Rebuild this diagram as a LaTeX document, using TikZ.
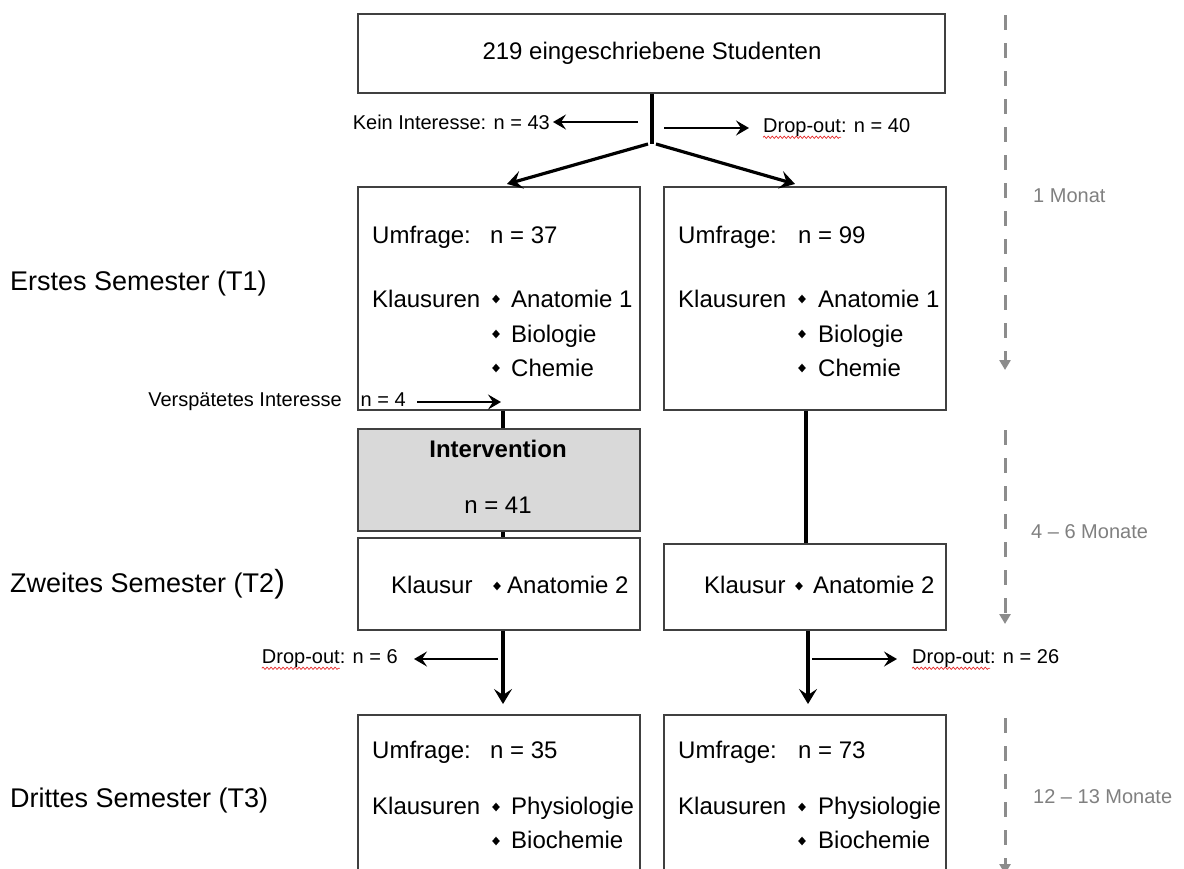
\documentclass[tikz,border=0pt]{standalone}
\usepackage{fontspec}
\setmainfont{Liberation Sans}
\usetikzlibrary{arrows.meta,calc,decorations.pathmorphing}
\definecolor{boxline}{RGB}{64,64,64}
\definecolor{ivfill}{RGB}{217,217,217}
\definecolor{tlgray}{RGB}{140,140,140}
\definecolor{tltext}{RGB}{128,128,128}
\definecolor{spell}{RGB}{230,40,40}
\tikzset{
 box/.style={draw=boxline, line width=1.5pt, fill=white, anchor=north west, inner sep=0pt},
 txt/.style={font=\fontsize{24}{28}\selectfont, inner sep=0pt, anchor=base west},
 lbl/.style={font=\fontsize{27}{32}\selectfont, inner sep=0pt, anchor=base west},
 small/.style={font=\fontsize{20}{24}\selectfont, inner sep=0pt},
 tl/.style={font=\fontsize{20}{24}\selectfont, text=tltext, inner sep=0pt, anchor=base west},
 main/.style={line width=3.2pt},
 mainarr/.style={line width=3.2pt, -{Stealth[length=15pt,width=18pt,inset=6pt]}},
 thinarr/.style={line width=2.4pt, -{Stealth[length=13pt,width=15pt,inset=5pt]}},
 timeline/.style={draw=tlgray, line width=3pt, dash pattern=on 15pt off 13pt, -{Triangle[length=10pt,width=11pt]}},
 spellline/.style={draw=spell, line width=0.7pt, decorate, decoration={snake, amplitude=1.1pt, segment length=4pt}},
}
\newcommand\bulletat[2]{\fill (#1,#2) +(-3.8,0) -- +(0,-4.3) -- +(3.8,0) -- +(0,4.3) -- cycle;}
\begin{document}
\begin{tikzpicture}[x=1pt,y=-1pt]
\useasboundingbox (0,0) rectangle (1184,868);
\clip (0,0) rectangle (1184,868);
\fill[white] (0,0) rectangle (1184,868);

% column coordinates
\coordinate (colL) at (503,0);
\coordinate (colR) at (806,0);
\coordinate (colR2) at (808,0);
\coordinate (split) at (652,144);

% boxes
\node[box, minimum width=587pt, minimum height=79pt] (top) at (357,13) {};
\node[font=\fontsize{24}{28}\selectfont, inner sep=0pt] (toptxt) at (652,53) {219 eingeschriebene Studenten};

\node[box, minimum width=282pt, minimum height=223pt] (b1l) at (357,186) {};
\node[box, minimum width=282pt, minimum height=223pt] (b1r) at (663,186) {};
\node[box, fill=ivfill, minimum width=282pt, minimum height=102pt] (iv) at (357,428) {};
\node[box, minimum width=282pt, minimum height=92pt] (b2l) at (357,537) {};
\node[box, minimum width=282pt, minimum height=86pt] (b2r) at (663,543) {};
\node[box, minimum width=282pt, minimum height=180pt] (b3l) at (357,714) {};
\node[box, minimum width=282pt, minimum height=180pt] (b3r) at (663,714) {};

% box 1 left
\node[txt] (u1l) at (372,243) {Umfrage:};
\node[txt] (n1l) at (490,243) {n = 37};
\node[txt] (k1l) at (372,307) {Klausuren};
\bulletat{496}{299}\bulletat{496}{334}\bulletat{496}{368}
\node[txt] (a1l) at (511,307) {Anatomie 1};
\node[txt] (bi1l) at (511,342) {Biologie};
\node[txt] (c1l) at (511,376) {Chemie};
% box 1 right
\node[txt] (u1r) at (678,243) {Umfrage:};
\node[txt] (n1r) at (798,243) {n = 99};
\node[txt] (k1r) at (678,307) {Klausuren};
\bulletat{802}{299}\bulletat{802}{334}\bulletat{802}{368}
\node[txt] (a1r) at (818,307) {Anatomie 1};
\node[txt] (bi1r) at (818,342) {Biologie};
\node[txt] (c1r) at (818,376) {Chemie};

% intervention
\node[font=\fontsize{24}{28}\selectfont\bfseries, inner sep=0pt, anchor=base] (ivt) at (498,457) {Intervention};
\node[font=\fontsize{24}{28}\selectfont, inner sep=0pt, anchor=base] (ivn) at (498,513) {n = 41};

% box 2
\node[txt] (k2l) at (391,593) {Klausur};
\bulletat{497}{586}
\node[txt] (a2l) at (507,593) {Anatomie 2};
\node[txt] (k2r) at (704,593) {Klausur};
\bulletat{799}{586}
\node[txt] (a2r) at (813,593) {Anatomie 2};

% box 3 left
\node[txt] (u3l) at (372,758) {Umfrage:};
\node[txt] (n3l) at (490,758) {n = 35};
\node[txt] (k3l) at (372,814) {Klausuren};
\bulletat{496}{807}\bulletat{496}{841}
\node[txt] (p3l) at (511,814) {Physiologie};
\node[txt] (bc3l) at (511,848) {Biochemie};
% box 3 right
\node[txt] (u3r) at (678,758) {Umfrage:};
\node[txt] (n3r) at (798,758) {n = 73};
\node[txt] (k3r) at (678,814) {Klausuren};
\bulletat{802}{807}\bulletat{802}{841}
\node[txt] (p3r) at (818,814) {Physiologie};
\node[txt] (bc3r) at (818,848) {Biochemie};

% left labels
\node[lbl] (s1) at (10,290) {Erstes Semester (T1)};
\node[lbl] (s2) at (10,592) {Zweites Semester (T2{\fontsize{32}{32}\selectfont )}};
\node[lbl] (s3) at (10,807) {Drittes Semester (T3)};

% time labels
\node[tl] (m1) at (1033,202) {1 Monat};
\node[tl] (m2) at (1031,538) {4 -- 6 Monate};
\node[tl] (m3) at (1033,803) {12 -- 13 Monate};

% timeline
\coordinate (t1a) at (1005,15);  \coordinate (t1b) at (1005,370);
\coordinate (t2a) at (1005,430); \coordinate (t2b) at (1005,624);
\coordinate (t3a) at (1005,718); \coordinate (t3b) at (1005,874);
\draw[timeline] (t1a) -- (t1b);
\draw[timeline] (t2a) -- (t2b);
\draw[timeline] (t3a) -- (t3b);

% top split
\draw[main] (top.south -| split) -- (split);
\coordinate (dl) at (507,184);
\coordinate (dr) at (795,184);
\draw[mainarr] ($(split)+(-4,0)$) -- (dl);
\draw[mainarr] ($(split)+(4,0)$) -- (dr);

\node[small, anchor=east] (ki) at (550,122) {Kein Interesse: n = 43};
\coordinate (kiS) at (638,122);
\draw[thinarr, shorten >=3pt] (kiS) -- (ki.east);

\node[small, anchor=west] (do40) at (763,128) {Drop-out: n = 40};
\coordinate (doS) at (664,128);
\draw[thinarr, shorten >=14pt] (doS) -- (do40.west);

% column lines
\draw[main] (b1l.south -| colL) -- (iv.north -| colL);
\draw[main] (iv.south -| colL) -- (b2l.north -| colL);
\draw[main] (b1r.south -| colR) -- (b2r.north -| colR);

\node[small, anchor=east] (vi) at (406,402) {Verspätetes Interesse\hspace{19pt}n = 4};
\draw[thinarr, shorten >=2pt] ($(vi.east)+(11,0)$) -- (vi.east -| colL);

% bottom arrows
\coordinate (dL) at (503,704);
\coordinate (dR) at (808,704);
\draw[mainarr] (b2l.south -| colL) -- (dL);
\draw[mainarr] (b2r.south -| colR2) -- (dR);

\node[small, anchor=east] (do6) at (398,659) {Drop-out: n = 6};
\coordinate (d6S) at (498,659);
\draw[thinarr, shorten >=16pt] (d6S) -- (do6.east);

\node[small, anchor=west] (do26) at (912,659) {Drop-out: n = 26};
\coordinate (d26S) at (812,659);
\draw[thinarr, shorten >=15pt] (d26S) -- (do26.west);

% spelling marks
\draw[spellline] (do40.south west) -- ++(78,0);
\draw[spellline] (do6.south west) -- ++(78,0);
\draw[spellline] (do26.south west) -- ++(78,0);
\end{tikzpicture}
\end{document}
